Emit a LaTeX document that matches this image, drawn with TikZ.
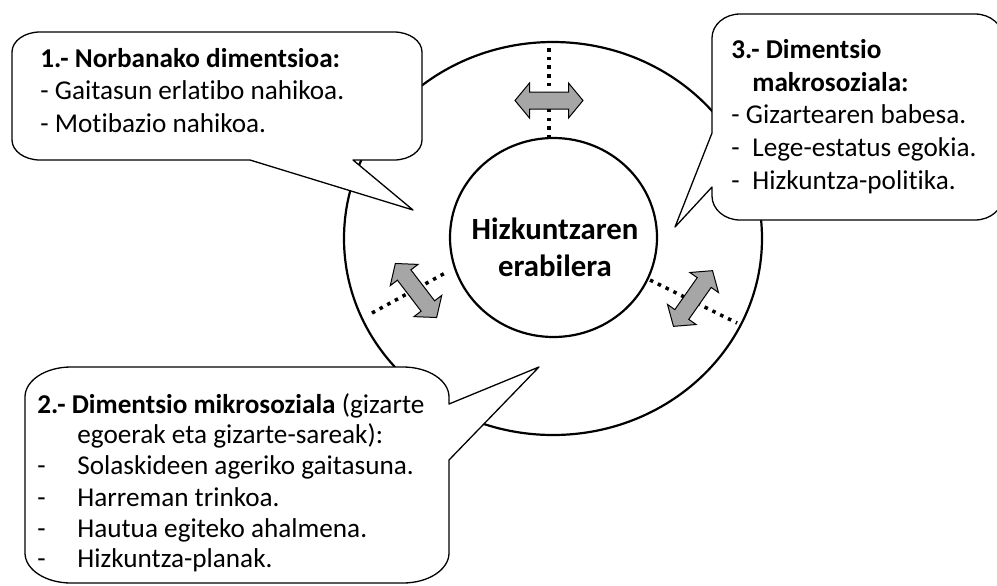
\documentclass[tikz,border=0pt]{standalone}
\usepackage{fontspec}
\setmainfont{Carlito}[Ligatures=NoCommon]
\usepackage{xcolor}
\usetikzlibrary{shapes.geometric}
\definecolor{arrowgray}{RGB}{166,166,166}
\tikzset{
  ring/.style={ellipse,draw=black,line width=1.1pt,fill=white,inner sep=0pt},
  bubble/.style={draw=black,line width=0.65pt,fill=white,line join=round},
  dots/.style={line width=1.75pt,dash pattern=on 1.75pt off 2.6pt},
  txt/.style={anchor=base west,inner sep=0pt,font=\fontsize{13.6pt}{16pt}\selectfont},
  usetxt/.style={anchor=base,inner sep=0pt,font=\fontsize{15.4pt}{18pt}\selectfont\bfseries}
}
\begin{document}
\begin{tikzpicture}[x={(0.5pt,0)},y={(0,-0.5pt)}]
\useasboundingbox (0,0) rectangle (997,585);
% circles
\node[ring,minimum width=209pt,minimum height=196.5pt] (outer) at (553,238.5) {};
\node[ring,minimum width=103.5pt,minimum height=99.5pt] (inner) at (553.5,237.5) {};
\node[usetxt] (use1) at (555,239) {Hizkuntzaren};
\node[usetxt] (use2) at (555,276) {erabilera};
% dotted links
\coordinate (topa) at (549,48);
\coordinate (topb) at (549,143);
\coordinate (lefta) at (372,313);
\coordinate (leftb) at (447,272);
\coordinate (righta) at (650,280);
\coordinate (rightb) at (737,323);
\draw[dots] (topa)--(topb);
\draw[dots] (lefta)--(leftb);
\draw[dots] (righta)--(rightb);
% double arrows
\foreach \cx/\cy/\ang in {549/100.5/0, 416/290.5/-52.6, 693/298.5/55}{
  \draw[fill=arrowgray,line width=0.5pt,line join=miter,shift={(\cx,\cy)},rotate=\ang]
    (-34,0)--(-19.5,-17.5)--(-19.5,-8.5)--(19.5,-8.5)--(19.5,-17.5)--(34,0)
    --(19.5,17.5)--(19.5,8.5)--(-19.5,8.5)--(-19.5,17.5)--cycle;
}
% callout 1
\draw[bubble] (40,32)--(394,32) .. controls (409.5,32) and (422,41) .. (422,52)--(422,140)
  .. controls (422,151) and (409.5,160) .. (394,160)--(353,160)--(413,210)--(250,160)--(40,160)
  .. controls (24.5,160) and (12,151) .. (12,140)--(12,52) .. controls (12,41) and (24.5,32) .. (40,32)--cycle;
\node[txt] (one1) at (40,67) {\textbf{1.- Norbanako dimentsioa:}};
\node[txt] (one2) at (40,99.5) {- Gaitasun erlatibo nahikoa.};
\node[txt] (one3) at (40,132) {- Motibazio nahikoa.};
% callout 3
\draw[bubble] (740,14)--(975,14) .. controls (990.5,14) and (1003,24.8) .. (1003,38)--(1003,196)
  .. controls (1003,209.2) and (990.5,220) .. (975,220)--(740,220)
  .. controls (724.5,220) and (712,209.2) .. (712,196)--(712,187)--(675,227)--(712,133)--(712,38)
  .. controls (712,24.8) and (724.5,14) .. (740,14)--cycle;
\node[txt] (three1) at (731,58) {\textbf{3.- Dimentsio}};
\node[txt] (three2) at (752,91) {\textbf{makrosoziala:}};
\node[txt] (three3) at (731,123) {- Gizartearen babesa.};
\node[txt] (three4) at (731,156) {\makebox[10.5pt][l]{-}Lege-estatus egokia.};
\node[txt] (three5) at (731,189) {\makebox[10.5pt][l]{-}Hizkuntza-politika.};
% callout 2
\draw[bubble] (71,367)--(403,367) .. controls (428.4,367) and (449,380.4) .. (449,397)--(449,404)
  --(539,367)--(449,460)--(449,553) .. controls (449,569.6) and (428.4,583) .. (403,583)--(71,583)
  .. controls (45.6,583) and (25,569.6) .. (25,553)--(25,397)
  .. controls (25,380.4) and (45.6,367) .. (71,367)--cycle;
\node[txt] (two1) at (37,413) {\textbf{2.- Dimentsio mikrosoziala} (gizarte};
\node[txt] (two2) at (77,443) {egoerak eta gizarte-sareak):};
\node[txt] (two3) at (37,474) {\makebox[20pt][l]{-}Solaskideen ageriko gaitasuna.};
\node[txt] (two4) at (37,506) {\makebox[20pt][l]{-}Harreman trinkoa.};
\node[txt] (two5) at (37,537) {\makebox[20pt][l]{-}Hautua egiteko ahalmena.};
\node[txt] (two6) at (37,567) {\makebox[20pt][l]{-}Hizkuntza-planak.};
\end{tikzpicture}
\end{document}
